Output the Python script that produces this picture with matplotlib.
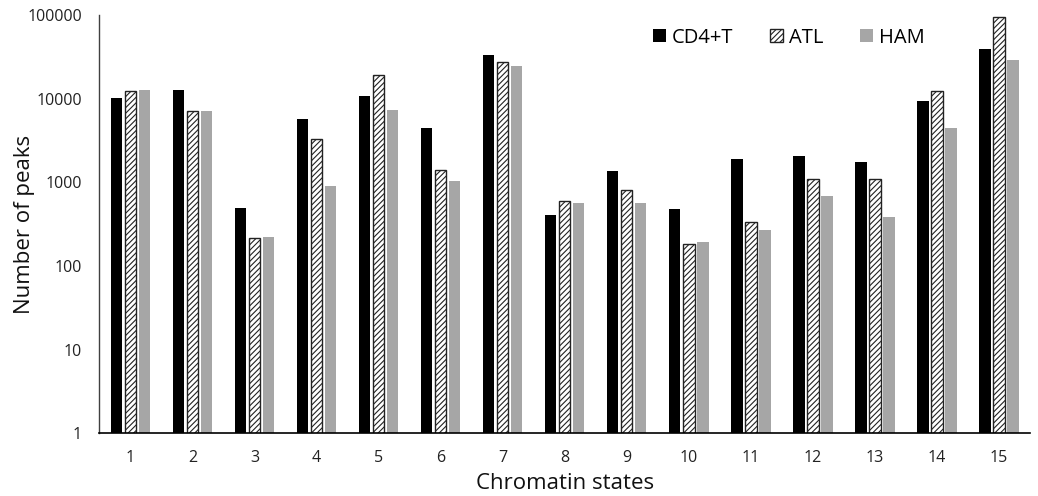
import numpy as np
import matplotlib
matplotlib.use('Agg')
import matplotlib.pyplot as plt

plt.rcParams['font.family'] = ['Open Sans', 'DejaVu Sans']
plt.rcParams['hatch.linewidth'] = 0.8

# Données (échelle log)
states = [str(i) for i in range(1, 16)]
cd4t = [10100, 12600, 493, 5660, 10850, 4500, 33000, 403, 1365, 484, 1918, 2066, 1766, 9300, 39500]
atl = [12300, 7100, 214, 3320, 19300, 1390, 27400, 598, 802, 182, 333, 1087, 1087, 12300, 93900]
ham = [12800, 7050, 224, 896, 7320, 1028, 24400, 561, 566, 192, 269, 687, 385, 4500, 29000]

x = np.arange(len(states))
w = 0.185
step = 0.226

fig = plt.figure(figsize=(10.38, 4.96), dpi=100)
ax = fig.add_axes([0.0957, 0.1264, 0.8966, 0.8434])

ax.bar(x - step, cd4t, w, color='black', label='CD4+T', zorder=2)
ax.bar(x, atl, w, color='white', edgecolor='#222222', linewidth=1.0,
       hatch='//////', label='ATL', zorder=2)
ax.bar(x + step, ham, w, color='#A6A6A6', label='HAM', zorder=2)

ax.set_yscale('log')
ax.set_ylim(1, 100000)
ax.set_xlim(-0.5, len(states) - 0.5)
ax.set_yticks([1, 10, 100, 1000, 10000, 100000])
ax.set_yticklabels(['1', '10', '100', '1000', '10000', '100000'])
ax.yaxis.set_minor_locator(matplotlib.ticker.NullLocator())
ax.set_xticks(x)
ax.set_xticklabels(states)
ax.tick_params(axis='both', length=0, labelsize=11.5, colors='#222222')
ax.tick_params(axis='x', pad=12)
ax.tick_params(axis='y', pad=12.5)

for s in ['top', 'right']:
    ax.spines[s].set_visible(False)
ax.spines['left'].set_color('#404040')
ax.spines['bottom'].set_color('black')
ax.spines['left'].set_linewidth(1.0)
ax.spines['bottom'].set_linewidth(1.2)

ax.set_xlabel('Chromatin states', fontsize=16, color='#111111')
ax.set_ylabel('Number of peaks', fontsize=16, color='#111111')
ax.xaxis.set_label_coords(0.5, -0.095)
ax.yaxis.set_label_coords(-0.069, 0.5)

ax.legend(loc='upper left', bbox_to_anchor=(0.595, 0.97), ncol=3, frameon=False,
          fontsize=14.5, handlelength=0.65, handleheight=0.65, handletextpad=0.3,
          columnspacing=1.8, borderpad=0, borderaxespad=0)

fig.savefig('out.png', dpi=100)
